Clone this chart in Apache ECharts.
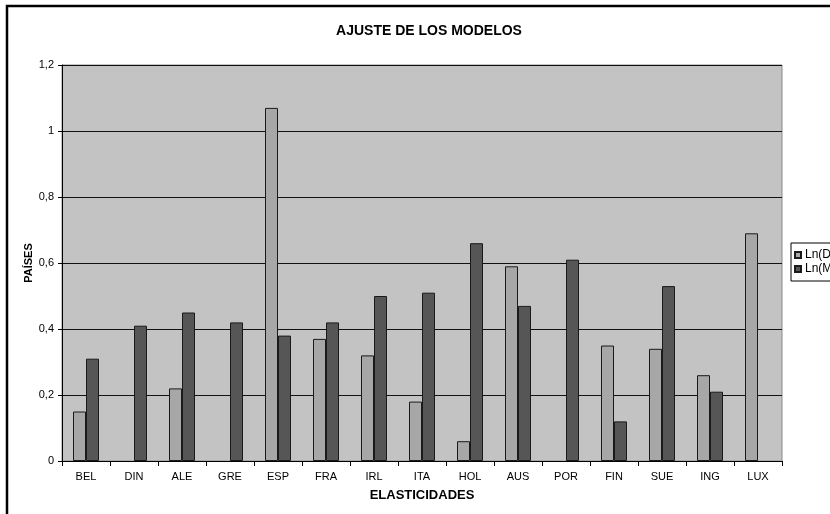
<!DOCTYPE html>
<html>
<head>
<meta charset="utf-8">
<script src="https://cdn.jsdelivr.net/npm/echarts@6/dist/echarts.min.js"></script>
<style>
  html, body { margin: 0; padding: 0; background: #ffffff; }
  #chart { width: 830px; height: 514px; }
</style>
</head>
<body>
<div id="chart"></div>
<script>
// Countries on the category axis
const countries = ['BEL', 'DIN', 'ALE', 'GRE', 'ESP', 'FRA', 'IRL', 'ITA', 'HOL', 'AUS', 'POR', 'FIN', 'SUE', 'ING', 'LUX'];
// Ln(D) model values (null where no bar is shown)
const lnD = [0.15, null, 0.22, null, 1.07, 0.37, 0.32, 0.18, 0.06, 0.59, null, 0.35, 0.34, 0.26, 0.69];
// Ln(M) model values
const lnM = [0.31, 0.41, 0.45, 0.42, 0.38, 0.42, 0.50, 0.51, 0.66, 0.47, 0.61, 0.12, 0.53, 0.21, null];
// Value-axis range; tick labels use a decimal comma
const yTicks = { min: 0, max: 1.2, interval: 0.2 };

const chart = echarts.init(document.getElementById('chart'), null, { renderer: 'canvas' });

const fontFamily = 'Liberation Sans, Arial, sans-serif';

chart.setOption({
  backgroundColor: '#ffffff',
  animation: false,
  title: {
    text: 'AJUSTE DE LOS MODELOS',
    left: 424,
    top: 19,
    textAlign: 'center',
    textStyle: { fontFamily: 'Liberation Sans Narrow, Liberation Sans, Arial, sans-serif', fontSize: 14, fontWeight: 'bold', color: '#000' }
  },
  graphic: [
    {
      type: 'rect',
      shape: { x: 7, y: 6, width: 900, height: 600 },
      style: { fill: 'none', stroke: '#000', lineWidth: 2.5 },
      silent: true,
      z: 100
    }
  ],
  legend: {
    left: 791,
    top: 243,
    orient: 'vertical',
    itemWidth: 6,
    itemHeight: 6,
    itemGap: 2,
    padding: [6, 4, 6, 3],
    borderColor: '#000',
    borderWidth: 1,
    backgroundColor: '#ffffff',
    icon: 'rect',
    textStyle: { fontFamily: fontFamily, fontSize: 12, color: '#000', padding: [0, 0, 0, -1] },
    data: ['Ln(D)', 'Ln(M)']
  },
  grid: {
    left: 62,
    top: 65,
    right: 48,
    bottom: 53,
    show: true,
    backgroundColor: '#c3c3c3',
    borderColor: '#8a8a8a',
    borderWidth: 1
  },
  xAxis: {
    type: 'category',
    data: countries,
    name: 'ELASTICIDADES',
    nameLocation: 'middle',
    nameGap: 28,
    nameMoveOverlap: false,
    nameTextStyle: { fontFamily: fontFamily, fontSize: 13, fontWeight: 'bold', color: '#000' },
    axisLine: { lineStyle: { color: '#000', width: 1 } },
    axisTick: { show: true, alignWithLabel: false, length: 5, lineStyle: { color: '#000' } },
    axisLabel: { fontFamily: fontFamily, fontSize: 11, color: '#000', margin: 10, interval: 0 },
    splitLine: { show: false }
  },
  yAxis: {
    type: 'value',
    min: yTicks.min,
    max: yTicks.max,
    interval: yTicks.interval,
    name: 'PAÍSES',
    nameLocation: 'middle',
    nameGap: 28,
    nameMoveOverlap: false,
    nameTextStyle: { fontFamily: fontFamily, fontSize: 11, fontWeight: 'bold', color: '#000' },
    axisLine: { show: true, lineStyle: { color: '#000', width: 1 } },
    axisTick: { show: true, length: 4, lineStyle: { color: '#000' } },
    axisLabel: {
      fontFamily: fontFamily, fontSize: 11, color: '#000', margin: 8,
      formatter: v => String(Math.round(v * 10) / 10).replace('.', ',')
    },
    splitLine: { show: true, lineStyle: { color: '#111', width: 1 } }
  },
  series: [
    {
      name: 'Ln(D)',
      type: 'bar',
      data: lnD,
      barWidth: 13,
      barGap: '0%',
      itemStyle: { color: '#a7a7a7', borderColor: '#1a1a1a', borderWidth: 1 }
    },
    {
      name: 'Ln(M)',
      type: 'bar',
      data: lnM,
      barWidth: 13,
      barGap: '0%',
      itemStyle: { color: '#565656', borderColor: '#1a1a1a', borderWidth: 1 }
    }
  ]
});
</script>
</body>
</html>
